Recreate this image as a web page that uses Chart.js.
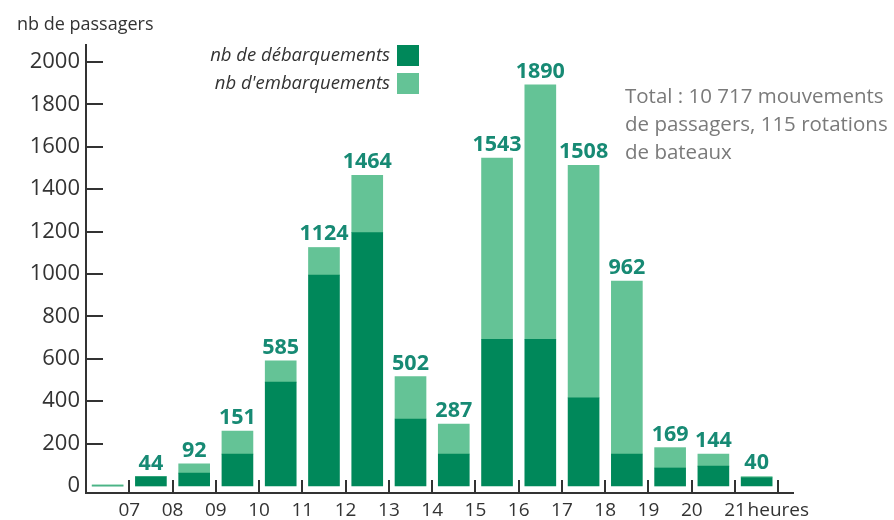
<!DOCTYPE html>
<html><head><meta charset="utf-8">
<script src="https://cdn.jsdelivr.net/npm/chart.js@4.4.1/dist/chart.umd.min.js"></script>
<style>html,body{margin:0;padding:0;background:#fff;}#wrap{width:894px;height:520px;}</style>
</head><body><div id="wrap"><canvas id="c" width="894" height="520"></canvas></div>
<script>
// ---- data ----
const hourStarts = [6, 7, 8, 9, 10, 11, 12, 13, 14, 15, 16, 17, 18, 19, 20, 21];
const debarquements = [0, 44, 61, 150, 490, 995, 1195, 316, 151, 692, 692, 416, 151, 85, 94, 40];
const embarquements = [6, 0, 44, 109, 100, 130, 270, 200, 141, 855, 1200, 1096, 815, 96, 57, 5];
const totalLabels = ["", "44", "92", "151", "585", "1124", "1464", "502", "287", "1543", "1890", "1508", "962", "169", "144", "40"];
const hourTicks = [7, 8, 9, 10, 11, 12, 13, 14, 15, 16, 17, 18, 19, 20, 21, 22];
const hourTickLabels = ["07", "08", "09", "10", "11", "12", "13", "14", "15", "16", "17", "18", "19", "20", "21", "heures"];
const yTicks = [200, 400, 600, 800, 1000, 1200, 1400, 1600, 1800, 2000];
const yTickLabels = [0, 200, 400, 600, 800, 1000, 1200, 1400, 1600, 1800, 2000];
const seriesNames = ["nb de débarquements", "nb d'embarquements"];
const yTitle = "nb de passagers";
const noteLines = ["Total : 10 717 mouvements", "de passagers, 115 rotations", "de bateaux"];

// ---- style ----
const DARK = "#00885a", LIGHT = "#64c396", AXIS = "#333333", TEXT = "#333333", VALUE = "#178a74", NOTE = "#7a7a7a";
const FONT = "'Open Sans', sans-serif";

const tickMarks = {
  id: 'tickMarks',
  afterDraw(chart) {
    const ctx = chart.ctx, xs = chart.scales.x, ys = chart.scales.y;
    ctx.save();
    ctx.strokeStyle = AXIS; ctx.lineWidth = 2;
    const y0 = ys.bottom;
    hourTicks.forEach(h => {
      const px = Math.round(xs.getPixelForValue(h));
      ctx.beginPath(); ctx.moveTo(px, y0); ctx.lineTo(px, y0 - 13); ctx.stroke();
    });
    const x0 = xs.left;
    yTicks.forEach(v => {
      const py = Math.round(ys.getPixelForValue(v));
      ctx.beginPath(); ctx.moveTo(x0, py); ctx.lineTo(x0 + 17, py); ctx.stroke();
    });
    ctx.restore();
  }
};

const valueLabels = {
  id: 'valueLabels',
  afterDatasetsDraw(chart) {
    const ctx = chart.ctx;
    const top = chart.getDatasetMeta(1).data;
    ctx.save();
    ctx.font = "bold 21.5px " + FONT;
    ctx.fillStyle = VALUE;
    ctx.textAlign = 'center';
    ctx.textBaseline = 'alphabetic';
    top.forEach((el, i) => {
      if (totalLabels[i]) ctx.fillText(totalLabels[i], el.x, el.y - 7);
    });
    ctx.restore();
  }
};

const annotations = {
  id: 'annotations',
  afterDraw(chart) {
    const ctx = chart.ctx;
    ctx.save();
    ctx.font = "18px " + FONT; ctx.fillStyle = TEXT;
    ctx.textAlign = 'left'; ctx.textBaseline = 'middle';
    ctx.fillText(yTitle, 17, 25);
    const ds = chart.data.datasets;
    [0, 1].forEach(k => {
      const cy = 55.5 + k * 28;
      ctx.fillStyle = ds[k].backgroundColor;
      ctx.fillRect(397, cy - 10.5, 22, 21);
      ctx.fillStyle = TEXT;
      ctx.font = "italic 18.5px " + FONT;
      ctx.textAlign = 'right';
      ctx.fillText(ds[k].label, 390, cy);
    });
    ctx.font = "20.5px " + FONT; ctx.fillStyle = NOTE; ctx.textAlign = 'left';
    noteLines.forEach((l, i) => ctx.fillText(l, 625, 97 + i * 28));
    ctx.restore();
  }
};

new Chart(document.getElementById('c'), {
  type: 'bar',
  data: {
    datasets: [
      { label: seriesNames[0], data: debarquements.map((v, i) => ({ x: hourStarts[i] + 0.5, y: v })), backgroundColor: DARK },
      { label: seriesNames[1], data: embarquements.map((v, i) => ({ x: hourStarts[i] + 0.5, y: v })), backgroundColor: LIGHT }
    ]
  },
  options: {
    responsive: false,
    animation: false,
    events: [],
    layout: { padding: { top: 45, right: 101, left: 0, bottom: 0 } },
    barThickness: 31,
    plugins: { legend: { display: false }, tooltip: { enabled: false }, title: { display: false } },
    scales: {
      x: {
        type: 'linear', stacked: true, min: 6, max: 22.34, offset: false,
        grid: { display: false, drawTicks: false, offset: false },
        border: { display: true, color: AXIS, width: 2 },
        afterBuildTicks: s => { s.ticks = hourTicks.map(v => ({ value: v })); },
        afterFit: s => { s.height = 27; },
        ticks: {
          padding: 6, color: TEXT, font: { family: FONT, size: 19 },
          maxRotation: 0, autoSkip: false,
          callback: v => { const i = hourTicks.indexOf(v); return i >= 0 ? hourTickLabels[i] : ''; }
        }
      },
      y: {
        stacked: true, min: -33, max: 2080,
        grid: { display: false, drawTicks: false },
        border: { display: true, color: AXIS, width: 2 },
        afterBuildTicks: s => { s.ticks = yTickLabels.map(v => ({ value: v })); },
        afterFit: s => { s.width = 86; },
        ticks: { padding: 6, color: TEXT, font: { family: FONT, size: 22 }, callback: v => String(v) }
      }
    }
  },
  plugins: [tickMarks, valueLabels, annotations]
});
</script></body></html>
